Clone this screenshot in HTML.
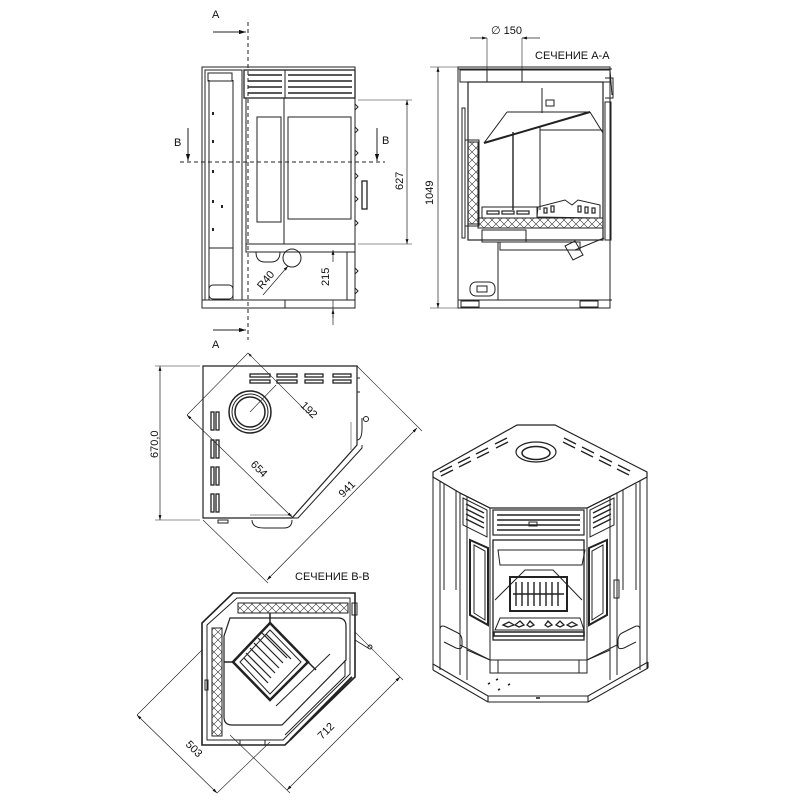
<!DOCTYPE html>
<html><head><meta charset="utf-8"><style>
html,body{margin:0;padding:0;background:#fff;}
svg{display:block}
text{font-family:"Liberation Sans","DejaVu Sans",sans-serif;fill:#111;}
</style></head><body>
<svg width="800" height="800" viewBox="0 0 800 800" xmlns="http://www.w3.org/2000/svg">
<defs>
<marker id="ar" viewBox="0 0 10 10" refX="10" refY="5" markerWidth="7" markerHeight="7" orient="auto-start-reverse"><path d="M0,2 L10,5 L0,8 z" fill="#111"/></marker>
<pattern id="xx" width="8" height="8" patternUnits="userSpaceOnUse"><path d="M0,0 L8,8 M8,0 L0,8" stroke="#333" stroke-width="0.6"/></pattern>
</defs>
<g fill="none" stroke="#222" stroke-width="1">

<!-- ===== FRONT VIEW ===== -->
<rect x="202" y="67" width="153" height="241"/>
<rect x="202" y="300" width="153" height="8"/>
<line x1="285" y1="300" x2="285" y2="308"/>
<rect x="205" y="70" width="37" height="230"/>
<rect x="208" y="73" width="24" height="8"/>
<rect x="209" y="285" width="24" height="14" rx="4"/>
<line x1="209" y1="80" x2="209" y2="300"/>
<line x1="233" y1="80" x2="233" y2="300"/>
<line x1="209" y1="248" x2="233" y2="248"/>
<g stroke-width="2"><line x1="213" y1="112" x2="213" y2="115"/><line x1="213" y1="140" x2="213" y2="143"/><line x1="213" y1="170" x2="213" y2="173"/><line x1="213" y1="200" x2="213" y2="203"/><line x1="213" y1="228" x2="213" y2="231"/><line x1="222" y1="205" x2="222" y2="208"/></g>
<rect x="244" y="70" width="111" height="28" stroke-width="1.3"/>
<line x1="285" y1="70" x2="285" y2="98"/>
<g stroke-width="1.6">
<line x1="248" y1="75" x2="282" y2="75"/><line x1="248" y1="81" x2="282" y2="81"/><line x1="248" y1="87" x2="282" y2="87"/><line x1="248" y1="93" x2="282" y2="93"/>
<line x1="288" y1="75" x2="352" y2="75"/><line x1="288" y1="81" x2="352" y2="81"/><line x1="288" y1="87" x2="352" y2="87"/><line x1="288" y1="93" x2="352" y2="93"/>
</g>
<rect x="246" y="98" width="109" height="146"/>
<line x1="284" y1="98" x2="284" y2="244"/>
<rect x="257" y="117" width="24" height="105"/>
<rect x="288" y="117" width="63" height="102"/>
<path d="M355,104 l3,3 l-3,3 M355,127 l3,3 l-3,3 M355,150 l3,3 l-3,3 M355,173 l3,3 l-3,3 M355,196 l3,3 l-3,3 M355,220 l3,3 l-3,3 M355,268 l3,3 l-3,3 M355,288 l3,3 l-3,3"/>
<rect x="362" y="181" width="5" height="28" stroke-width="1.3"/>
<rect x="246" y="244" width="109" height="8"/>
<line x1="292" y1="252" x2="355" y2="252"/>
<circle cx="292" cy="258" r="9"/>
<path d="M256,252 q0,10 9,10 h6 q9,0 9,-10"/>
<line x1="347" y1="252" x2="347" y2="300"/>
<!-- section lines -->
<line x1="248" y1="22" x2="248" y2="340" stroke-dasharray="4,3"/>
<line x1="180" y1="162" x2="385" y2="162" stroke-dasharray="4,3"/>
<line x1="213" y1="32" x2="246" y2="32" marker-end="url(#ar)"/>
<line x1="213" y1="330" x2="246" y2="330" marker-end="url(#ar)"/>
<line x1="188" y1="128" x2="188" y2="161" marker-end="url(#ar)"/>
<line x1="377" y1="128" x2="377" y2="161" marker-end="url(#ar)"/>
<!-- dims -->
<line x1="358" y1="100" x2="412" y2="100" stroke-width="0.6"/>
<line x1="358" y1="244" x2="412" y2="244" stroke-width="0.6"/>
<line x1="407" y1="100" x2="407" y2="244" stroke-width="0.7" marker-start="url(#ar)" marker-end="url(#ar)"/>
<line x1="333" y1="262" x2="333" y2="250" stroke-width="0.7" marker-end="url(#ar)"/>
<line x1="333" y1="300" x2="333" y2="325" stroke-width="0.7"/>
<line x1="333" y1="318" x2="333" y2="309" stroke-width="0.7" marker-end="url(#ar)"/>
<line x1="263" y1="295" x2="288" y2="266" stroke-width="0.7" marker-end="url(#ar)"/>
<line x1="355" y1="308" x2="352" y2="308" stroke-width="0.6"/>

<!-- ===== SECTION A-A ===== -->
<line x1="430" y1="67" x2="458" y2="67" stroke-width="0.6"/>
<line x1="430" y1="308" x2="458" y2="308" stroke-width="0.6"/>
<line x1="438" y1="67" x2="438" y2="308" stroke-width="0.7" marker-start="url(#ar)" marker-end="url(#ar)"/>
<line x1="487" y1="38" x2="487" y2="70" stroke-width="0.6"/>
<line x1="522" y1="38" x2="522" y2="70" stroke-width="0.6"/>
<line x1="470" y1="38" x2="487" y2="38" stroke-width="0.7" marker-end="url(#ar)"/>
<line x1="540" y1="38" x2="522" y2="38" stroke-width="0.7" marker-end="url(#ar)"/>
<rect x="458" y="67" width="152" height="241"/>
<line x1="458" y1="69" x2="612" y2="69"/>
<rect x="460" y="70" width="150" height="12"/>
<line x1="458" y1="300" x2="612" y2="300"/>
<rect x="461" y="301" width="18" height="6"/><rect x="580" y="301" width="18" height="6"/>
<line x1="498" y1="242" x2="498" y2="300"/>
<rect x="470" y="282" width="25" height="14" rx="6"/>
<rect x="477" y="286" width="10" height="6"/>
<rect x="468" y="82" width="135" height="158" stroke-width="1.2"/>
<rect x="462" y="108" width="3" height="130"/>
<rect x="605" y="102" width="6" height="138"/>
<line x1="610" y1="70" x2="612" y2="95"/>
<path d="M605,78 h8 v20 h-8" />
<rect x="546" y="100" width="8" height="6"/>
<line x1="542" y1="88" x2="542" y2="113"/>
<line x1="507" y1="112" x2="590" y2="112"/>
<line x1="507" y1="112" x2="484" y2="143"/>
<line x1="484" y1="143" x2="590" y2="112" stroke-width="2"/>
<line x1="590" y1="112" x2="603" y2="133"/>
<line x1="513" y1="132" x2="513" y2="210" stroke-width="1.4"/>
<line x1="540" y1="127" x2="540" y2="210"/>
<line x1="540" y1="130" x2="603" y2="130"/>
<rect x="468" y="142" width="10" height="82" fill="url(#xx)"/>
<rect x="465" y="140" width="14" height="86"/>
<rect x="478" y="218" width="125" height="10" fill="url(#xx)"/>
<rect x="482" y="207" width="55" height="11"/>
<g stroke-width="1.2"><rect x="487" y="211" width="12" height="3"/><rect x="502" y="211" width="12" height="3"/><rect x="517" y="211" width="12" height="3"/></g>
<path d="M537,217 L538,207 L565,200 L572,205 L578,200 L600,205 L600,218 Z"/>
<g stroke-width="1.2"><rect x="544" y="208" width="3" height="5"/><rect x="551" y="206" width="3" height="6"/><rect x="578" y="206" width="3" height="6"/><rect x="585" y="207" width="3" height="6"/><rect x="592" y="208" width="3" height="5"/></g>
<rect x="482" y="230" width="44" height="12"/>
<rect x="500" y="242" width="80" height="8"/>
<path d="M565,246 l10,-5 l8,14 l-10,5 z"/>
<line x1="575" y1="250" x2="604" y2="238"/>
<line x1="487" y1="70" x2="487" y2="82"/><line x1="522" y1="70" x2="522" y2="82"/>

<!-- ===== TOP VIEW ===== -->
<path d="M203,366 H357 V445 L292,518 H203 Z" stroke-width="1.2"/>
<path d="M357,440 q5,0 5,-12 l0,-10" />
<circle cx="366" cy="419" r="2.5"/>
<line x1="357" y1="378" x2="360" y2="378"/><line x1="357" y1="392" x2="360" y2="392"/>
<path d="M292,518 L298,518 L362,448 L362,445"/>
<path d="M252,520 q0,8 12,8 h20 q8,0 8,-8"/>
<rect x="218" y="520" width="10" height="3"/>
<g stroke-width="1.3">
<rect x="250" y="374" width="20" height="3"/><rect x="250" y="380" width="20" height="3"/>
<rect x="277" y="374" width="20" height="3"/><rect x="277" y="380" width="20" height="3"/>
<rect x="305" y="374" width="18" height="3"/><rect x="305" y="380" width="18" height="3"/>
<rect x="333" y="374" width="18" height="3"/><rect x="333" y="380" width="18" height="3"/>
<rect x="211" y="412" width="3" height="18"/><rect x="216" y="412" width="3" height="18"/>
<rect x="211" y="440" width="3" height="18"/><rect x="216" y="440" width="3" height="18"/>
<rect x="211" y="467" width="3" height="18"/><rect x="216" y="467" width="3" height="18"/>
<rect x="211" y="494" width="3" height="18"/><rect x="216" y="494" width="3" height="18"/>
</g>
<circle cx="250" cy="412" r="21" stroke-width="1.5"/>
<circle cx="250" cy="412" r="18"/>
<circle cx="250" cy="412" r="15" stroke-width="1.5"/>
<line x1="351" y1="422" x2="351" y2="450" stroke-width="0.5"/>
<line x1="250" y1="515" x2="292" y2="515" stroke-width="0.5"/>
<!-- dims top view -->
<line x1="155" y1="366" x2="200" y2="366" stroke-width="0.6"/>
<line x1="155" y1="520" x2="200" y2="520" stroke-width="0.6"/>
<line x1="160" y1="366" x2="160" y2="520" stroke-width="0.7" marker-start="url(#ar)" marker-end="url(#ar)"/>
<line x1="187" y1="415" x2="292" y2="517" stroke-width="0.7" marker-start="url(#ar)" marker-end="url(#ar)"/>
<line x1="187" y1="415" x2="248" y2="353" stroke-width="0.6"/>
<line x1="248" y1="353" x2="313" y2="418" stroke-width="0.6" marker-start="url(#ar)"/>
<line x1="250" y1="412" x2="276" y2="385" stroke-width="0.6"/>
<line x1="417" y1="428" x2="267" y2="580" stroke-width="0.7" marker-start="url(#ar)" marker-end="url(#ar)"/>
<line x1="357" y1="366" x2="422" y2="431" stroke-width="0.6"/>
<line x1="203" y1="520" x2="268" y2="583" stroke-width="0.6"/>

<!-- ===== SECTION B-B ===== -->
<path d="M233,593 H355 V677 L285,745 H202 V623 Z" stroke-width="1.6"/>
<path d="M237,598 H350 V674 L283,740 H207 V625 Z"/>
<rect x="238" y="603" width="110" height="10" fill="url(#xx)"/>
<rect x="210" y="628" width="10" height="108" fill="url(#xx)" transform="translate(2,0)"/>
<path d="M230,618 H338 q8,0 8,8 V660 L282,725 H232 q-8,0 -8,-8 V636 Z" stroke-width="1.2"/>
<path d="M270,623 L308,662 L270,700 L233,662 Z" stroke-width="2.5"/>
<path d="M270,630 L301,662 L270,694 L240,662 Z"/>
<g stroke-width="1.2">
<line x1="258" y1="638" x2="283" y2="663"/><line x1="254" y1="643" x2="279" y2="668"/><line x1="250" y1="648" x2="275" y2="673"/><line x1="246" y1="653" x2="271" y2="678"/><line x1="262" y1="633" x2="287" y2="658"/><line x1="266" y1="634" x2="291" y2="659"/><line x1="244" y1="658" x2="268" y2="683"/>
</g>
<line x1="270" y1="613" x2="270" y2="623" stroke-width="1.5"/>
<line x1="224" y1="662" x2="233" y2="662" stroke-width="1.5"/>
<line x1="308" y1="662" x2="316" y2="670" stroke-width="1.5"/>
<line x1="276" y1="706" x2="330" y2="654"/>
<path d="M345,660 L345,676 L285,735"/>
<path d="M352,677 L290,740" stroke-width="2"/>
<rect x="352" y="603" width="5" height="12"/>
<line x1="355" y1="640" x2="368" y2="648" stroke-width="0.8"/><circle cx="370" cy="647" r="2"/>
<rect x="205" y="680" width="3" height="10"/>
<rect x="240" y="740" width="25" height="5"/>
<!-- dims B-B -->
<line x1="137" y1="715" x2="217" y2="793" stroke-width="0.7" marker-start="url(#ar)" marker-end="url(#ar)"/>
<line x1="137" y1="715" x2="202" y2="650" stroke-width="0.6"/>
<line x1="217" y1="793" x2="270" y2="742" stroke-width="0.6"/>
<line x1="400" y1="677" x2="287" y2="790" stroke-width="0.7" marker-start="url(#ar)" marker-end="url(#ar)"/>
<line x1="355" y1="632" x2="403" y2="680" stroke-width="0.6"/>
<line x1="230" y1="735" x2="290" y2="793" stroke-width="0.6"/>

<!-- ===== ISOMETRIC ===== -->
<path d="M517,425 H555 L647,472 L647,477 L617,493 L587,508 H490 L460,493 L433,477 L433,472 Z" stroke-width="1.2"/>
<ellipse cx="536" cy="452" rx="20" ry="10" stroke-width="1.2"/>
<ellipse cx="536" cy="453" rx="14" ry="6.5" stroke-width="1.5"/>
<g stroke-width="1.4">
<line x1="440" y1="472" x2="452" y2="466"/><line x1="441" y1="476" x2="453" y2="470"/>
<line x1="458" y1="463" x2="470" y2="457"/><line x1="459" y1="467" x2="471" y2="461"/>
<line x1="476" y1="454" x2="488" y2="448"/><line x1="477" y1="458" x2="489" y2="452"/>
<line x1="495" y1="444" x2="507" y2="438"/><line x1="496" y1="448" x2="508" y2="442"/>
<line x1="564" y1="438" x2="576" y2="444"/><line x1="563" y1="442" x2="575" y2="448"/>
<line x1="582" y1="447" x2="594" y2="453"/><line x1="581" y1="451" x2="593" y2="457"/>
<line x1="600" y1="456" x2="612" y2="462"/><line x1="599" y1="460" x2="611" y2="466"/>
<line x1="618" y1="465" x2="630" y2="471"/><line x1="617" y1="469" x2="629" y2="475"/>
</g>
<!-- posts -->
<path d="M433,477 V668 M440,481 V670 M460,493 V675 M467,497 V680"/>
<path d="M647,477 V668 M640,481 V670 M617,493 V675 M610,497 V680"/>
<path d="M444,484 V590 M456,490 V590 M623,490 V590 M636,484 V590"/>
<path d="M440,650 V630 q0,-6 6,-3 l12,6 q4,2 4,8 v5 q0,4 -6,2 l-12,-6"/>
<path d="M640,650 V630 q0,-6 -6,-3 l-12,6 q-4,2 -4,8 v5 q0,4 6,2 l12,-6"/>
<!-- front faces -->
<path d="M460,493 L490,508 V660 L460,645 Z"/>
<path d="M617,493 L587,508 V660 L617,645 Z"/>
<rect x="490" y="508" width="97" height="152"/>
<rect x="493" y="510" width="91" height="25" stroke-width="1.2"/>
<g stroke-width="1.6"><line x1="497" y1="515" x2="580" y2="515"/><line x1="497" y1="520" x2="580" y2="520"/><line x1="497" y1="525" x2="580" y2="525"/><line x1="497" y1="530" x2="580" y2="530"/></g>
<rect x="529" y="522" width="8" height="4"/>
<path d="M463,498 L487,510 V537 L463,525 Z"/>
<path d="M614,498 L590,510 V537 L614,525 Z"/>
<g stroke-width="1.4"><path d="M466,504 l18,9 M466,509 l18,9 M466,514 l18,9 M466,519 l18,9"/><path d="M611,504 l-18,9 M611,509 l-18,9 M611,514 l-18,9 M611,519 l-18,9"/></g>
<!-- side glass -->
<path d="M470,540 L488,548 V625 L470,615 Z" stroke-width="2"/>
<path d="M474,545 L485,551 V620 L474,613 Z"/>
<path d="M607,540 L589,548 V625 L607,615 Z" stroke-width="2"/>
<path d="M603,545 L592,551 V620 L603,613 Z"/>
<rect x="614" y="580" width="5" height="18"/>
<!-- fireplace opening -->
<rect x="493" y="540" width="91" height="100" stroke-width="1.3"/>
<path d="M498,550 H585 L582,565 H500 Z"/>
<path d="M495,600 L525,570 H553 L582,600"/>
<rect x="510" y="577" width="57" height="34" stroke-width="2"/>
<g stroke-width="1.4"><line x1="516" y1="582" x2="516" y2="606"/><line x1="522" y1="582" x2="522" y2="606"/><line x1="528" y1="582" x2="528" y2="606"/><line x1="534" y1="582" x2="534" y2="606"/><line x1="540" y1="582" x2="540" y2="606"/><line x1="546" y1="582" x2="546" y2="606"/><line x1="552" y1="582" x2="552" y2="606"/><line x1="558" y1="582" x2="558" y2="606"/><line x1="513" y1="594" x2="564" y2="594"/></g>
<path d="M495,630 L500,618 L580,618 L584,630 Z"/>
<g stroke-width="1.3"><path d="M503,625 l6,-3 l5,3 l-6,2 z M515,625 l5,-4 l4,4 l-5,2 z M527,625 l3,-4 l4,4 l-4,2z M545,625 l3,-4 l4,4 l-4,2 z M556,625 l4,-4 l4,4 l-4,2 z M567,625 l5,-3 l5,3 l-6,2 z"/></g>
<rect x="494" y="632" width="90" height="4" stroke-width="1.5"/>
<!-- lower -->
<path d="M490,660 V673 H587 V660 M498,660 V673 M579,660 V673"/>
<path d="M467,650 L490,660 M610,650 L587,660"/>
<!-- base -->
<path d="M433,664 L488,696 H588 L648,662 M433,670 L488,702 H588 L648,668 M488,696 V702 M588,696 V702 M433,664 V670 M648,662 V668" stroke-width="1.1"/>
<g stroke-width="1.6"><line x1="488" y1="684" x2="490" y2="683"/><line x1="496" y1="680" x2="498" y2="679"/><line x1="508" y1="685" x2="510" y2="684"/><line x1="498" y1="690" x2="500" y2="689"/><line x1="536" y1="698" x2="540" y2="698"/></g>
</g>

<g font-size="11">
<text x="212" y="18" font-size="11">A</text>
<text x="212" y="348" font-size="11">A</text>
<text x="174" y="146">B</text>
<text x="382" y="144">B</text>
<text x="535" y="59" font-size="11">СЕЧЕНИЕ  A-A</text>
<text x="295" y="580" font-size="11">СЕЧЕНИЕ  B-B</text>
<text x="491" y="34">∅ 150</text>
<text transform="translate(403,190) rotate(-90)">627</text>
<text transform="translate(433,205) rotate(-90)">1049</text>
<text transform="translate(329,286) rotate(-90)">215</text>
<text transform="translate(262,290) rotate(-50)">R40</text>
<text transform="translate(158,458) rotate(-90)">670,0</text>
<text transform="translate(300,406) rotate(45)">192</text>
<text transform="translate(250,465) rotate(45)">654</text>
<text transform="translate(343,498) rotate(-45)">941</text>
<text transform="translate(185,745) rotate(45)">503</text>
<text transform="translate(322,740) rotate(-45)">712</text>
</g>
</svg>
</body></html>
